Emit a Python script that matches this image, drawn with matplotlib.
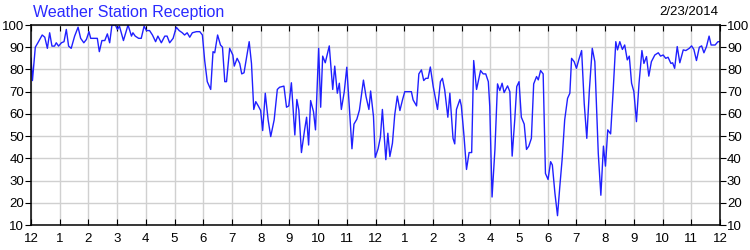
import matplotlib
matplotlib.use("Agg")
import matplotlib.pyplot as plt

plt.rcParams['font.family'] = ['Liberation Sans', 'DejaVu Sans']

# hours after midnight, signal %
hours = [0.00, 0.05, 0.15, 0.24, 0.39, 0.48, 0.57, 0.65, 0.73, 0.82, 0.88, 0.96,
         1.06, 1.15, 1.23, 1.31, 1.40, 1.52, 1.64, 1.73, 1.84, 1.93, 2.02, 2.08,
         2.31, 2.38, 2.47, 2.57, 2.66, 2.74, 2.82, 2.94, 3.01, 3.08, 3.22, 3.38,
         3.50, 3.55, 3.63, 3.75, 3.84, 3.94, 4.02, 4.13, 4.23, 4.34, 4.42, 4.54,
         4.66, 4.74, 4.83, 4.95, 5.06, 5.16, 5.27, 5.35, 5.44, 5.53, 5.62, 5.76,
         5.88, 5.97, 6.05, 6.14, 6.26, 6.34, 6.40, 6.50, 6.60, 6.67, 6.75, 6.81,
         6.92, 7.03, 7.08, 7.18, 7.27, 7.34, 7.42, 7.60, 7.68, 7.76, 7.83, 7.92,
         8.00, 8.07, 8.16, 8.26, 8.35, 8.47, 8.58, 8.66, 8.81, 8.90, 8.98, 9.07,
         9.19, 9.26, 9.33, 9.42, 9.53, 9.60, 9.67, 9.74, 9.84, 9.91, 10.02, 10.09,
         10.16, 10.25, 10.39, 10.51, 10.58, 10.67, 10.74, 10.81, 10.91, 11.00, 11.09, 11.18,
         11.25, 11.35, 11.44, 11.58, 11.67, 11.77, 11.83, 11.93, 11.99, 12.09, 12.17, 12.24,
         12.36, 12.43, 12.50, 12.59, 12.67, 12.76, 12.85, 12.94, 13.02, 13.25, 13.31, 13.43,
         13.51, 13.60, 13.68, 13.75, 13.83, 13.91, 14.01, 14.16, 14.26, 14.33, 14.41, 14.52,
         14.59, 14.70, 14.76, 14.82, 14.94, 14.99, 15.08, 15.17, 15.26, 15.35, 15.42, 15.52,
         15.66, 15.75, 15.84, 15.93, 15.98, 16.06, 16.16, 16.25, 16.33, 16.41, 16.48, 16.60,
         16.68, 16.76, 16.85, 16.92, 17.00, 17.08, 17.18, 17.26, 17.34, 17.43, 17.51, 17.61,
         17.67, 17.75, 17.84, 17.92, 18.01, 18.10, 18.16, 18.25, 18.34, 18.42, 18.50, 18.59,
         18.69, 18.77, 18.83, 18.92, 19.00, 19.08, 19.18, 19.27, 19.36, 19.45, 19.55, 19.64,
         19.76, 19.85, 19.94, 20.01, 20.09, 20.19, 20.28, 20.37, 20.43, 20.51, 20.60, 20.68,
         20.77, 20.84, 20.92, 21.00, 21.09, 21.18, 21.28, 21.35, 21.44, 21.52, 21.61, 21.73,
         21.85, 21.93, 22.02, 22.11, 22.19, 22.29, 22.35, 22.42, 22.51, 22.60, 22.72, 22.81,
         22.93, 23.01, 23.09, 23.18, 23.28, 23.36, 23.44, 23.53, 23.62, 23.69, 23.83, 23.93,
         24.00]
signal = [85, 75, 90, 92, 95.5, 94.5, 89.5, 96.5, 90.5, 90.5, 92, 90.5,
          92, 92.5, 98, 90.5, 89.5, 95, 99, 94, 92, 93.5, 97, 94,
          94, 88, 93, 93, 96, 92, 100, 100, 98, 99.5, 93, 100,
          95, 96.5, 95, 94, 94, 99.5, 97.5, 97.5, 95.5, 92.5, 95, 92,
          95, 95, 92, 94, 99, 97.5, 96.5, 95.5, 96.5, 94.5, 96.5, 97,
          97, 95.5, 84, 74.5, 71, 88, 87.5, 95.5, 91, 90, 74.5, 74.5,
          89.5, 86.5, 81.5, 85, 82.7, 78, 78.5, 92.5, 82.7, 62, 65.5, 63.5,
          61.5, 52.5, 69.3, 57.3, 49.8, 57.3, 71, 72, 72.5, 63, 63.6, 74,
          50.5, 66.5, 61.7, 42.6, 52.8, 58.5, 46, 66, 61, 52.8, 89.5, 63,
          86, 83, 90.6, 71, 81.5, 69.3, 73.8, 62, 69.8, 81, 62.3, 44.3,
          55.4, 57.6, 61.7, 75.2, 67.8, 62, 70.3, 58.8, 40.4, 44.3, 49.5, 62,
          39.4, 51.3, 40.8, 46.8, 59.6, 68, 61.5, 66.3, 70, 70, 66.3, 63.6,
          78, 79.8, 75, 76, 76, 81.1, 72.3, 62, 74.5, 76, 70.8, 58.5,
          69.3, 49, 46.5, 62, 66.5, 63.6, 50.5, 35, 42.6, 42.6, 84, 71,
          79.5, 78, 78, 74.5, 63.4, 22.6, 44, 73.5, 70.5, 73.8, 69.6, 72.6,
          70, 41, 57.3, 72.3, 74.5, 58.5, 55.4, 44, 45.5, 49, 73.5, 76.8,
          75.3, 79.5, 78, 33.2, 30.5, 38.5, 37, 24.3, 14.2, 27.3, 39.4, 57.3,
          67, 69.3, 85, 83.5, 80.5, 84.3, 88.5, 64.8, 49, 70.8, 89.5, 83.5,
          42.2, 23.4, 45.5, 36.5, 52.8, 51, 70.8, 92.5, 88.8, 92.5, 89, 91,
          84.3, 86, 73.8, 70, 56.5, 73.8, 88.5, 82.7, 85.8, 77, 83.5, 86.5,
          87.5, 86, 86.5, 85, 85.5, 82.7, 83, 80.5, 90.3, 83, 88.8, 88.5,
          89.5, 90.6, 89, 84, 90, 90.6, 87.5, 90.3, 95, 91, 91, 92.5,
          92.5]

hour_ticks = list(range(25))
hour_labels = ['12', '1', '2', '3', '4', '5', '6', '7', '8', '9', '10', '11',
               '12', '1', '2', '3', '4', '5', '6', '7', '8', '9', '10', '11', '12']
y_ticks = [10, 20, 30, 40, 50, 60, 70, 80, 90, 100]

fig = plt.figure(figsize=(7.5, 2.5), dpi=100)
ax = fig.add_axes([31/750, 25/250, 689/750, 200/250])

ax.plot(hours, signal, color='#2020ff', lw=1.0)

ax.set_xlim(0, 24)
ax.set_ylim(10, 100)
ax.set_xticks(hour_ticks)
ax.set_xticklabels(hour_labels)
ax.set_yticks(y_ticks)
ax.grid(True, color='#d0d0d0', lw=1)
ax.set_axisbelow(True)

ax.tick_params(axis='x', direction='in', length=4, top=True, labelsize=9.5, pad=6, colors='black')
ax.tick_params(axis='y', direction='out', length=4, right=True, labelright=True, labelsize=9.5, pad=1)
for s in ax.spines.values():
    s.set_linewidth(1.1)

fig.text(33/750, 1 - 12/250, 'Weather Station Reception', color='#2a2aff',
         fontsize=11.5, va='center', ha='left')
fig.text(718/750, 1 - 12/250, '2/23/2014', color='black',
         fontsize=9.5, va='center', ha='right')

fig.savefig('out.png', dpi=100)
